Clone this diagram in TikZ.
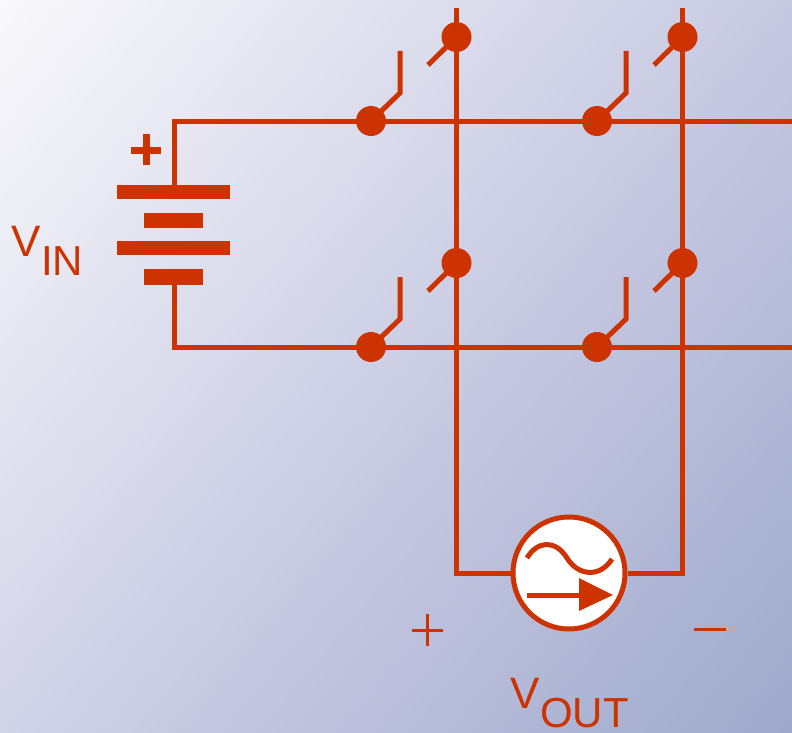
\documentclass[tikz,border=0pt]{standalone}
\usepackage{fontspec}
\setmainfont{Liberation Sans}
\definecolor{wire}{HTML}{CC3300}
\definecolor{bgA}{HTML}{FAFAFC}
\definecolor{bgB}{HTML}{C6C8E1}
\definecolor{bgC}{HTML}{9DA8CB}
\pgfdeclareverticalshading{bggrad}{100bp}{color(0bp)=(bgC); color(14bp)=(bgC); color(45bp)=(bgB); color(86bp)=(bgA); color(100bp)=(bgA)}
\tikzset{
 wireline/.style={draw=wire,line width=5pt,line cap=butt,line join=miter},
 pivot/.style={circle,fill=wire,minimum size=30pt,inner sep=0pt},
 plate/.style={rectangle,fill=wire,inner sep=0pt},
 label/.style={text=wire,inner sep=0pt,anchor=base west,font=\fontsize{44}{44}\selectfont},
 sublabel/.style={text=wire,inner sep=0pt,anchor=base west,font=\fontsize{42}{42}\selectfont},
 thinsign/.style={draw=wire,line width=3pt},
}
\begin{document}
\begin{tikzpicture}[x=1pt,y=-1pt]
\useasboundingbox (0,0) rectangle (792,733);
\begin{scope}
\clip (0,0) rectangle (792,733);
\shade[shading=bggrad,shading angle=50] (0,0) rectangle (792,733);
\end{scope}
% battery
\node[plate,minimum width=113pt,minimum height=14pt] (p1) at (173.5,192) {};
\node[plate,minimum width=59pt,minimum height=15pt] (p2) at (173.5,220.5) {};
\node[plate,minimum width=113pt,minimum height=14pt] (p3) at (173.5,248) {};
\node[plate,minimum width=59pt,minimum height=16pt] (p4) at (173.5,277) {};
% corners and free ends
\coordinate (tl) at (174,121.4);
\coordinate (bl) at (174,347.4);
\coordinate (tr) at (792,121.4);
\coordinate (br) at (792,347.4);
\coordinate (t1) at (456.5,8);
\coordinate (t2) at (682.5,8);
\coordinate (c1) at (456.5,573);
\coordinate (c2) at (682.5,573);
% pivots
\node[pivot] (s1) at (371,121) {};
\node[pivot] (s2) at (597,121) {};
\node[pivot] (s3) at (371,347) {};
\node[pivot] (s4) at (597,347) {};
\node[pivot] (u1) at (456.5,37) {};
\node[pivot] (u2) at (682.5,37) {};
\node[pivot] (u3) at (456.5,263) {};
\node[pivot] (u4) at (682.5,263) {};
% source
\node[circle,draw=wire,fill=white,line width=5pt,minimum size=112pt,inner sep=0pt] (src) at (569,573) {};
% wires
\draw[wireline] (p1.north -| tl) -- (tl) -- (tr);
\draw[wireline] (p4.south -| bl) -- (bl) -- (br);
\draw[wireline] (t1) -- (c1) -- (src.west);
\draw[wireline] (t2) -- (c2) -- (src.east);
% switch arms
\foreach \n/\x/\y in {s1/400/93,s2/626/93,s3/400/319,s4/626/319}{
  \draw[wireline] (\n.center) -- (\x,\y) -- (\x,\y-42);
}
\foreach \n/\x/\y in {u1/428/65,u2/654/65,u3/428/291,u4/654/291}{
  \draw[wireline] (\n.center) -- (\x,\y);
}
% source symbols
\draw[draw=wire,line width=5pt] (527,558) .. controls (537,541) and (555,539) .. (567,558) .. controls (578,576) and (600,578) .. (612,559);
\draw[draw=wire,line width=5pt] (527,595) -- (582,595);
\fill[wire] (579,578) -- (613,595) -- (579,611) -- cycle;
% signs
\fill[wire] (142.5,134) rectangle (149.5,165);
\fill[wire] (131,146.5) rectangle (161,153.5);
\draw[thinsign] (412,630) -- (443,630);
\draw[thinsign] (427.5,614) -- (427.5,646);
\draw[thinsign] (694,629) -- (726,629);
% labels
\node[label] (vin) at (11,256) {V};
\node[sublabel] (vinsub) at (41,275) {IN};
\node[label] (vout) at (510,708) {V};
\node[sublabel] (voutsub) at (540,727) {OUT};
\end{tikzpicture}
\end{document}
